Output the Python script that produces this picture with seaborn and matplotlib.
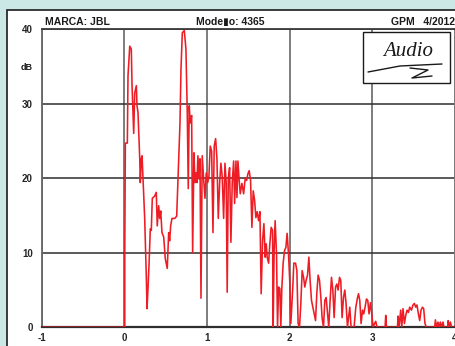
import matplotlib
matplotlib.use("Agg")
import matplotlib.pyplot as plt
from matplotlib.patches import Rectangle
from matplotlib.lines import Line2D
import seaborn as sns
import pandas as pd

# ---- data ----
freq = [-1.0, 0.005, 0.005, 0.012, 0.036, 0.044, 0.065, 0.084, 0.093, 0.113, 0.125, 0.145, 0.153,
        0.165, 0.186, 0.193, 0.205, 0.214, 0.226, 0.246, 0.266, 0.274, 0.286, 0.298, 0.314, 0.326,
        0.338, 0.367, 0.386, 0.398, 0.415, 0.428, 0.440, 0.455, 0.476, 0.495, 0.519, 0.536, 0.548,
        0.560, 0.576, 0.609, 0.633, 0.652, 0.673, 0.685, 0.701, 0.725, 0.745, 0.761, 0.773, 0.785,
        0.797, 0.814, 0.826, 0.842, 0.854, 0.866, 0.878, 0.890, 0.902, 0.915, 0.927, 0.942, 0.959,
        0.975, 0.991, 1.008, 1.023, 1.039, 1.056, 1.072, 1.087, 1.104, 1.120, 1.136, 1.153, 1.168,
        1.184, 1.201, 1.217, 1.232, 1.244, 1.257, 1.273, 1.289, 1.305, 1.322, 1.334, 1.350, 1.362,
        1.374, 1.389, 1.402, 1.422, 1.443, 1.462, 1.479, 1.495, 1.510, 1.527, 1.543, 1.559, 1.576,
        1.591, 1.607, 1.624, 1.640, 1.655, 1.672, 1.688, 1.704, 1.716, 1.728, 1.745, 1.760, 1.776,
        1.793, 1.800, 1.812, 1.824, 1.841, 1.853, 1.866, 1.881, 1.893, 1.905, 1.921, 1.938, 1.954,
        1.969, 1.986, 2.002, 2.014, 2.038, 2.050, 2.071, 2.087, 2.102, 2.119, 2.135, 2.151, 2.168,
        2.183, 2.199, 2.216, 2.232, 2.247, 2.264, 2.280, 2.296, 2.313, 2.328, 2.344, 2.361, 2.377,
        2.392, 2.409, 2.425, 2.441, 2.458, 2.473, 2.489, 2.506, 2.522, 2.538, 2.555, 2.570, 2.586,
        2.603, 2.618, 2.634, 2.651, 2.667, 2.682, 2.699, 2.727, 2.743, 2.779, 2.800, 2.821, 2.833,
        2.848, 2.864, 2.881, 2.896, 2.912, 2.929, 2.945, 2.960, 2.977, 2.993, 3.009, 3.026, 3.041,
        3.057, 3.154, 3.162, 3.171, 3.304, 3.311, 3.323, 3.343, 3.356, 3.371, 3.388, 3.404, 3.420,
        3.437, 3.452, 3.473, 3.492, 3.509, 3.525, 3.540, 3.557, 3.573, 3.589, 3.606, 3.621, 3.637,
        3.654, 3.754, 3.763, 3.775, 3.794, 3.806, 3.823, 3.835, 3.855, 3.867, 3.911, 3.918, 3.927,
        3.944, 3.960, 4.0]
level = [0, 0, 10, 24.7, 24.7, 33.7, 37.7, 37.3, 32.4, 26, 31.4, 32.4, 29.7,
         28.8, 22.6, 19.4, 22.6, 23, 19.9, 14.6, 6.6, 2.5, 5.2, 8.3, 13.2, 13,
         17.3, 17.6, 18.1, 13.6, 16.3, 14.6, 15.6, 12.7, 12.1, 9.2, 7.9, 12.7, 11.6,
         13.6, 14.6, 14.6, 14.9, 20.7, 27.4, 34.6, 39.5, 39.8, 37.3, 28.8, 18.6, 29.7,
         27.4, 28.4, 10, 23.4, 19.4, 20.7, 19.4, 23, 19.9, 22.6, 3.9, 23, 19.9,
         17.3, 20.7, 19.4, 20.2, 24.3, 23.6, 12.7, 24.3, 25.3, 22.6, 14.6, 19.4, 22,
         20.2, 14.6, 22, 19.4, 4.7, 19.9, 21.4, 11.4, 19.4, 22.3, 16.6, 22.3, 17.4,
         22.3, 19.7, 17.9, 19.3, 17.9, 20, 19.7, 20.6, 21, 19.7, 13.4, 18.3, 17,
         14.7, 15.5, 14.3, 15.5, 4.5, 11.6, 13.9, 9.4, 11.2, 9.4, 8.6, 11.2, 13.4,
         13, 0, 10.3, 14.3, 9.8, 0, 5.4, 5.2, 0, 5.2, 8.6, 10.3, 10.7,
         12.6, 9.8, 5.9, 0.5, 5.4, 8.6, 8.6, 7.6, 0.5, 0, 3.2, 7.6, 6.7,
         5.4, 6.3, 7, 9.4, 6.3, 3.6, 2.7, 1.8, 0.9, 4.5, 7, 6.3, 4,
         1.3, 0, 3.6, 4, 1.8, 0, 3.6, 6.7, 5, 1.3, 5.4, 5.8, 5,
         6.7, 6.3, 1.3, 4, 5, 3.2, 0, 2.7, 0, 0, 2.7, 4, 4.5,
         3.6, 0.5, 2.3, 1.8, 2.7, 3.8, 3.6, 1.8, 3.3, 1.8, 0, 0.5, 0.8,
         0, 0, 1.6, 0, 0, 1.5, 0, 2.3, 0, 2.5, 0.5, 1.6, 2.3,
         2, 2.7, 2.3, 3, 3.2, 2.7, 3, 1.8, 0.9, 2.3, 2.7, 2.5, 0.5,
         0, 0, 1, 0, 0.7, 0, 0.7, 0, 0.7, 0, 0, 0.9, 0,
         0.7, 0, 0]

x_ticks = [-1, 0, 1, 2, 3, 4]
y_ticks = [0, 10, 20, 30, 40]
brand_text = "MARCA: JBL"
model_text = "Mode\u25aeo: 4365"
source_text = "GPM   4/2012"
unit_text = "dB"
logo_text = "Audio"

# ---- style ----
sns.set_style("white")
plt.rcParams['font.family'] = ['Liberation Sans', 'DejaVu Sans']

W, H = 456, 346
fig = plt.figure(figsize=(W / 100, H / 100), dpi=100, facecolor='#cbe7e6')

# white panel with black frame (behind everything)
fig.patches.append(Rectangle((7 / W, -0.1), 1.2, (1 - 10 / H) + 0.1, transform=fig.transFigure,
                             facecolor='white', edgecolor='#1a1a1a', lw=1.2, zorder=-10))

ax_left, ax_right, ax_top, ax_bot = 41.7, 455.0, 29.0, 327.3
ax = fig.add_axes([ax_left / W, (H - ax_bot) / H, (ax_right - ax_left) / W, (ax_bot - ax_top) / H])
ax.set_facecolor('white')
ax.set_zorder(1)

df = pd.DataFrame({'freq': freq, 'level': level})
sns.lineplot(data=df, x='freq', y='level', ax=ax, estimator=None, sort=False,
             color='#ee1c24', lw=1.15, zorder=4)

ax.set_xlim(-1, 4)
ax.set_ylim(0, 40)
ax.set_xticks(x_ticks)
ax.set_yticks(y_ticks)
ax.set_xticklabels([str(t) for t in x_ticks], fontweight='bold', fontsize=7)
ax.set_yticklabels([str(t) for t in y_ticks], fontweight='bold', fontsize=7)
ax.tick_params(axis='both', length=0)
ax.tick_params(axis='y', pad=6.5)
ax.tick_params(axis='x', pad=4)
ax.set_xlabel('')
ax.set_ylabel('')

ax.set_axisbelow(True)
ax.xaxis.grid(True, color='#7d7d7d', lw=1.4)
ax.yaxis.grid(True, color='#2e2e2e', lw=1.1)
ax.spines['left'].set_color('#666666')
ax.spines['left'].set_linewidth(1.3)
ax.spines['bottom'].set_color('#2e2e2e')
ax.spines['bottom'].set_linewidth(1.6)
ax.spines['top'].set_color('#3a3a3a')
ax.spines['top'].set_linewidth(1.3)
ax.spines['right'].set_color('#7d7d7d')
ax.spines['right'].set_linewidth(1.3)

# header texts
ty = 1 - 22 / H
fig.text(45 / W, ty, brand_text, ha='left', va='center', fontsize=7.5, fontweight='bold', color='#1a1a1a')
fig.text(230 / W, ty, model_text, ha='center', va='center', fontsize=7.5, fontweight='bold', color='#1a1a1a')
fig.text(455 / W, ty, source_text, ha='right', va='center', fontsize=7.5, fontweight='bold', color='#1a1a1a')
fig.text(27 / W, 1 - 68 / H, unit_text, ha='center', va='center', fontsize=6.5, fontweight='bold', color='#1a1a1a')

# logo box (above the axes)
bx0, bx1, by0, by1 = 363, 450, 32, 83
fig.patches.append(Rectangle((bx0 / W, 1 - by1 / H), (bx1 - bx0) / W, (by1 - by0) / H,
                             transform=fig.transFigure, facecolor='white', edgecolor='#1a1a1a',
                             lw=1.0, zorder=5))
fig.text(408 / W, 1 - 52 / H, logo_text, ha='center', va='center', fontsize=15, style='italic',
         family=['Liberation Serif', 'DejaVu Serif'], color='#1a1a1a', zorder=6)
fig.lines.append(Line2D([368 / W, 400 / W, 442 / W], [1 - 72 / H, 1 - 66 / H, 1 - 64 / H],
                        transform=fig.transFigure, color='#1a1a1a', lw=1.0, zorder=6))
fig.lines.append(Line2D([410 / W, 428 / W, 412 / W, 432 / W], [1 - 68 / H, 1 - 70 / H, 1 - 78 / H, 1 - 76 / H],
                        transform=fig.transFigure, color='#1a1a1a', lw=1.0, zorder=6))

fig.savefig('out.png', dpi=100, facecolor=fig.get_facecolor())
